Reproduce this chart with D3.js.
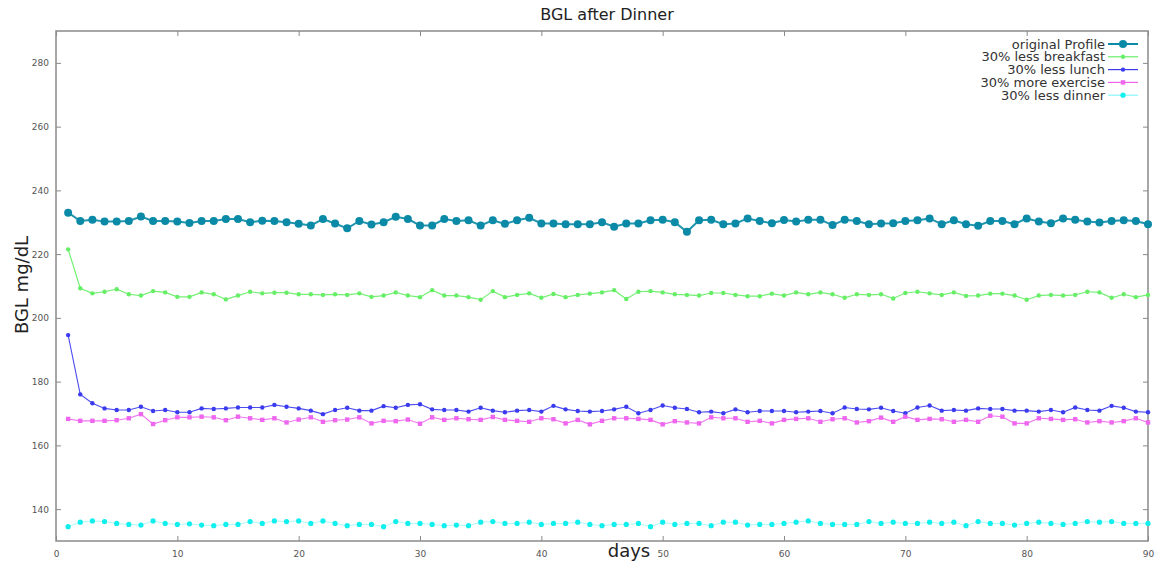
<!DOCTYPE html>
<html>
<head>
<meta charset="utf-8">
<script src="https://cdn.jsdelivr.net/npm/d3@7/dist/d3.min.js"></script>
<style>
html,body{margin:0;padding:0;background:#fff;}
svg{display:block;}
</style>
</head>
<body>
<svg id="chart" width="1158" height="564"></svg>
<script>
const days = d3.range(1, 91);
const seriesNames = ["original Profile","30% less breakfast","30% less lunch","30% more exercise","30% less dinner"];
const xTicks = [0,10,20,30,40,50,60,70,80,90];
const yTicks = [140,160,180,200,220,240,260,280];

const originalProfile = [
233,230.4,230.8,230.2,230.2,230.4,231.8,230.4,230.4,230.2,
229.8,230.4,230.4,231,231,230,230.5,230.4,230,229.5,
229,231,229.6,228.1,230.4,229.3,230,231.7,231,229,
229,231,230.4,230.6,229,230.6,229.5,230.6,231.4,229.6,
229.6,229.4,229.4,229.4,230,228.6,229.6,229.6,230.6,230.8,
230,227,230.6,230.8,229.4,229.6,231.2,230.4,229.7,230.7,
230.2,230.8,230.8,229.1,230.8,230.4,229.4,229.6,229.7,230.4,
230.6,231.2,229.4,230.6,229.4,228.9,230.4,230.4,229.4,231.2,
230.2,229.7,231.2,230.8,230.2,229.9,230.4,230.6,230.4,229.4];

const lessBreakfast = [
221.5,209.3,207.7,208.2,209,207.4,207,208.4,208,206.6,
206.6,208,207.4,205.8,207,208.2,207.7,207.9,207.9,207.4,
207.4,207.2,207.4,207.2,207.7,206.6,207,208,207,206.5,
208.7,207,207,206.5,205.7,208.4,206.5,207.2,207.7,206.3,
207.5,206.5,207.2,207.6,208,208.7,205.9,208.2,208.4,208,
207.4,207.2,207,207.8,207.8,207.2,206.8,206.8,207.6,207,
208,207.4,208,207.4,206.3,207.4,207.2,207.4,206.1,207.8,
208.2,207.7,207.2,208,206.9,207,207.6,207.6,207,205.7,
207,207.2,207,207.2,208.2,208,206.3,207.4,206.5,207.2];

const lessLunch = [
194.6,176,173.2,171.6,171.1,171.1,172.1,170.8,171.1,170.4,
170.4,171.6,171.4,171.6,171.9,171.9,171.9,172.7,172.1,171.6,
170.9,169.8,171.1,171.8,170.9,170.9,172.3,171.8,172.7,172.9,
171.3,171.1,171.1,170.6,171.8,170.9,170.4,170.9,171.1,170.6,
172.4,171.3,170.8,170.6,170.8,171.3,172.1,170.1,171.1,172.5,
171.8,171.4,170.4,170.6,170.1,171.3,170.4,170.8,170.8,170.8,
170.4,170.6,170.8,170.1,171.9,171.4,171.3,171.8,170.8,170.1,
171.9,172.5,170.9,171.1,170.9,171.6,171.4,171.4,170.9,170.9,
170.6,171.1,170.4,171.9,171.1,170.9,172.4,171.8,170.6,170.4];

const moreExercise = [
168.3,167.7,167.7,167.7,167.9,168.5,169.8,166.7,167.9,168.8,
168.8,169,168.8,167.9,169,168.5,168,168.5,167.2,168.1,
168.8,167.4,167.9,168.1,168.8,166.9,167.7,167.6,168.1,166.8,
168.8,168,168.5,168.2,168,168.9,168,167.7,167.4,168.5,
168.2,166.9,168,166.6,167.7,168.5,168.5,168.3,168,166.6,
167.6,167.2,166.9,168.8,168.5,168.5,167.4,167.7,166.9,168,
168.3,168.5,167.4,168.2,168.5,167.2,167.6,168.7,167.4,169,
168,168.3,168.2,167.4,168,167.4,169.3,169,166.9,166.9,
168.5,168.3,168,168.2,167.2,167.6,167.2,167.6,168.5,167.2];

const lessDinner = [
134.5,135.9,136.3,136.1,135.5,135.2,135,136.3,135.5,135.2,
135.4,135,134.8,135.2,135.2,136.1,135.5,136.3,136.1,136.3,
135.5,136.3,135.5,134.8,135.2,135.2,134.5,136.1,135.5,135.5,
135.2,134.8,135,134.8,135.9,136.1,135.5,135.5,135.9,135.2,
135.5,135.5,135.9,135.2,134.8,135.2,135.2,135.5,134.5,135.9,
135.2,135.5,135.5,134.8,135.9,135.9,135,135.2,135.2,135.5,
135.9,136.3,135.5,135.2,135.2,135.2,136.1,135.5,135.9,135.5,
135.5,135.9,135.5,135.9,134.8,136.1,135.5,135.5,135,135.5,
135.9,135.5,135.2,135.5,136.1,135.9,136.1,135.5,135.5,135.5];

const seriesValues = [originalProfile, lessBreakfast, lessLunch, moreExercise, lessDinner];
const colors = ["#0a8aa6","#66ee66","#3a3aee","#ee66ee","#11eeee"];
const lineWidths = [2, 1.2, 1.1, 1.1, 1.0];
const markerR = [4, 2.2, 2.2, 2.2, 2.6];

const svg = d3.select("#chart");
const x = d3.scaleLinear().domain([0, 90]).range([56, 1148]);
const y = d3.scaleLinear().domain([130, 290]).range([541, 31]);

const font = "'DejaVu Sans', Verdana, sans-serif";
const axisColor = "#8a8a8a";

// frame
svg.append("rect").attr("x", x(0)).attr("y", y(290))
  .attr("width", x(90) - x(0)).attr("height", y(130) - y(290))
  .attr("fill", "none").attr("stroke", axisColor).attr("stroke-width", 1.5);

// axes
const gy = svg.append("g").attr("transform", `translate(${x(0)},0)`)
  .call(d3.axisLeft(y).tickValues(yTicks).tickSize(-5).tickPadding(7));
const gyR = svg.append("g").attr("transform", `translate(${x(90)},0)`)
  .call(d3.axisRight(y).tickValues(yTicks).tickSize(-5).tickFormat(""));
const gx = svg.append("g").attr("transform", `translate(0,${y(130)})`)
  .call(d3.axisBottom(x).tickValues(xTicks).tickSize(-5).tickPadding(10));
const gxT = svg.append("g").attr("transform", `translate(0,${y(290)})`)
  .call(d3.axisTop(x).tickValues(xTicks).tickSize(-5).tickFormat(""));
[gy, gyR, gx, gxT].forEach(g => {
  g.select(".domain").remove();
  g.selectAll(".tick line").attr("stroke", axisColor).attr("stroke-width", 1);
  g.selectAll(".tick text").attr("fill", "#555").style("font-family", font).style("font-size", "9px");
});

// series
const line = d3.line().x((d, i) => x(days[i])).y(d => y(d));
seriesValues.forEach((vals, si) => {
  svg.append("path").datum(vals)
    .attr("d", line).attr("fill", "none")
    .attr("stroke", colors[si]).attr("stroke-width", lineWidths[si])
    .attr("stroke-opacity", si === 4 ? 0.35 : 0.9);
  const g = svg.append("g");
  if (si === 3) {
    g.selectAll("rect").data(vals).join("rect")
      .attr("x", (d, i) => x(days[i]) - 2.2).attr("y", d => y(d) - 2.2)
      .attr("width", 4.4).attr("height", 4.4)
      .attr("fill", colors[si]);
  } else {
    g.selectAll("circle").data(vals).join("circle")
      .attr("cx", (d, i) => x(days[i])).attr("cy", d => y(d))
      .attr("r", markerR[si]).attr("fill", colors[si]);
  }
});

// legend
const lg = svg.append("g");
seriesNames.forEach((name, i) => {
  const yy = 44 + i * 12.8;
  lg.append("text").attr("x", 1105).attr("y", yy + 4.5)
    .attr("text-anchor", "end").attr("fill", "#333")
    .style("font-family", font).style("font-size", "13px").text(name);
  lg.append("line").attr("x1", 1108).attr("x2", 1138).attr("y1", yy).attr("y2", yy)
    .attr("stroke", colors[i]).attr("stroke-width", i === 0 ? 2 : 1.2)
    .attr("stroke-opacity", i === 4 ? 0.5 : 1);
  if (i === 3) {
    lg.append("rect").attr("x", 1123 - 2.2).attr("y", yy - 2.2).attr("width", 4.4).attr("height", 4.4).attr("fill", colors[i]);
  } else {
    lg.append("circle").attr("cx", 1123).attr("cy", yy).attr("r", markerR[i]).attr("fill", colors[i]);
  }
});

// titles
svg.append("text").attr("x", 607).attr("y", 20).attr("text-anchor", "middle")
  .attr("fill", "#222").style("font-family", font).style("font-size", "16px").text("BGL after Dinner");
svg.append("text").attr("x", 629).attr("y", 557).attr("text-anchor", "middle")
  .attr("fill", "#222").style("font-family", font).style("font-size", "18px").text("days");
svg.append("text").attr("transform", "translate(28,285) rotate(-90)").attr("text-anchor", "middle")
  .attr("fill", "#222").style("font-family", font).style("font-size", "18px").text("BGL mg/dL");
</script>
</body>
</html>
